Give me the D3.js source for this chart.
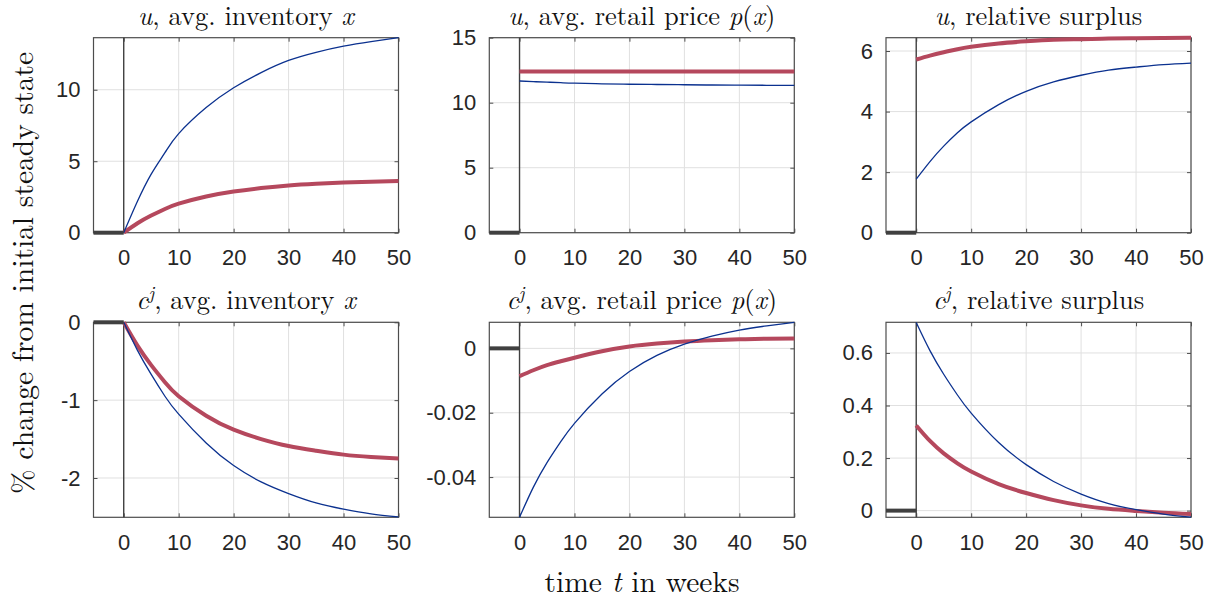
<!DOCTYPE html>
<html><head><meta charset="utf-8">
<script src="https://cdn.jsdelivr.net/npm/d3@7"></script>
<style>body{margin:0;background:#fff}svg{display:block}</style>
</head><body>
<script>
// ---- data ----
const times = [0, 2.5, 5, 7.5, 10, 15, 20, 25, 30, 35, 40, 45, 50];
const preTimes = [-5.5, 0];
const xTicks = [0, 10, 20, 30, 40, 50];

const uInventoryBlue = [0, 2.2, 4.1, 5.6, 6.93, 8.75, 10.14, 11.2, 12.05, 12.62, 13.05, 13.37, 13.64];
const uInventoryRed  = [0, 0.66, 1.2, 1.66, 2.03, 2.53, 2.88, 3.12, 3.3, 3.42, 3.51, 3.57, 3.62];
const uPriceBlue     = [11.67, 11.62, 11.58, 11.54, 11.5, 11.45, 11.42, 11.4, 11.38, 11.36, 11.35, 11.34, 11.33];
const uPriceRed      = [12.4, 12.4, 12.4, 12.4, 12.4, 12.4, 12.4, 12.4, 12.4, 12.4, 12.4, 12.4, 12.4];
const uSurplusBlue   = [1.77, 2.35, 2.86, 3.3, 3.66, 4.23, 4.67, 4.98, 5.2, 5.37, 5.47, 5.55, 5.6];
const uSurplusRed    = [5.72, 5.85, 5.96, 6.06, 6.14, 6.25, 6.32, 6.37, 6.39, 6.41, 6.42, 6.43, 6.44];
const cInventoryBlue = [0, -0.36, -0.67, -0.95, -1.18, -1.55, -1.84, -2.05, -2.2, -2.32, -2.4, -2.46, -2.5];
const cInventoryRed  = [0, -0.3, -0.55, -0.77, -0.95, -1.2, -1.38, -1.5, -1.59, -1.65, -1.7, -1.73, -1.75];
const cPriceBlue     = [-0.0525, -0.0432, -0.0355, -0.029, -0.0233, -0.0142, -0.0072, -0.0022, 0.0013, 0.0038, 0.0057, 0.007, 0.0081];
const cPriceRed      = [-0.0086, -0.0068, -0.0052, -0.004, -0.0029, -0.0009, 0.0006, 0.0015, 0.0021, 0.0025, 0.0028, 0.003, 0.0031];
const cSurplusBlue   = [0.716, 0.609, 0.519, 0.44, 0.371, 0.259, 0.175, 0.111, 0.063, 0.027, 0.004, -0.013, -0.025];
const cSurplusRed    = [0.324, 0.265, 0.218, 0.18, 0.149, 0.101, 0.067, 0.04, 0.02, 0.007, -0.001, -0.008, -0.013];

const yTicksList = [[0, 5, 10], [0, 5, 10, 15], [0, 2, 4, 6], [-2, -1, 0], [-0.04, -0.02, 0], [0, 0.2, 0.4, 0.6]];
const yTickLabels = [["0","5","10"], ["0","5","10","15"], ["0","2","4","6"], ["-2","-1","0"], ["-0.04","-0.02","0"], ["0","0.2","0.4","0.6"]];
const yDomains = [[0, 13.64], [0, 15], [0, 6.44], [-2.505, 0], [-0.0525, 0.0081], [-0.0254, 0.7166]];
const titleSymbol = ["u", "u", "u", "c", "c", "c"];
const titleText = [", avg. inventory ", ", avg. retail price ", ", relative surplus", ", avg. inventory ", ", avg. retail price ", ", relative surplus"];
const titleTail = ["x", "p(x)", "", "x", "p(x)", ""];
const blueSeries = [uInventoryBlue, uPriceBlue, uSurplusBlue, cInventoryBlue, cPriceBlue, cSurplusBlue];
const redSeries = [uInventoryRed, uPriceRed, uSurplusRed, cInventoryRed, cPriceRed, cSurplusRed];

// ---- layout ----
const W = 1208, H = 601;
const colL = [93.5, 489.3, 886], pw = 305;
const rowT = [37.7, 322.3], ph = 195;
const RED = "#b5485d", BLUE = "#0b318f", DARK = "#404040", AX = "#4d4d4d", GRID = "#e0e0e0", TXT = "#262626";
const SANS = "'Liberation Sans', Arial, Helvetica, sans-serif";
const SERIF = "'Latin Modern Roman', 'Liberation Serif', serif";

const svg = d3.select("body").append("svg").attr("width", W).attr("height", H);

for (let i = 0; i < 6; i++) {
  const r = Math.floor(i / 3), c = i % 3;
  const x0 = colL[c], y0 = rowT[r];
  const g = svg.append("g").attr("transform", `translate(${x0},${y0})`);
  const x = d3.scaleLinear().domain([-5.5, 50]).range([0, pw]);
  const y = d3.scaleLinear().domain(yDomains[i]).range([ph, 0]);

  // grid
  g.append("g").selectAll("line").data(xTicks.filter(t => t > 0)).join("line")
    .attr("x1", d => x(d)).attr("x2", d => x(d)).attr("y1", 0).attr("y2", ph)
    .attr("stroke", GRID).attr("stroke-width", 1);
  g.append("g").selectAll("line").data(yTicksList[i]).join("line")
    .attr("x1", 0).attr("x2", pw).attr("y1", d => y(d)).attr("y2", d => y(d))
    .attr("stroke", GRID).attr("stroke-width", 1);

  // box
  g.append("rect").attr("width", pw).attr("height", ph).attr("fill", "none")
    .attr("stroke", AX).attr("stroke-width", 1.2);

  // axes (ticks inward)
  const xAxis = d3.axisBottom(x).tickValues(xTicks).tickSize(-4).tickPadding(17).tickFormat(d3.format("d"));
  const yAxis = d3.axisLeft(y).tickValues(yTicksList[i]).tickSize(-4).tickPadding(13)
    .tickFormat((d, k) => yTickLabels[i][k]);
  const xa = g.append("g").attr("transform", `translate(0,${ph})`).call(xAxis);
  const ya = g.append("g").call(yAxis);
  const xTop = g.append("g").call(d3.axisTop(x).tickValues(xTicks).tickSize(-4).tickFormat(""));
  const yRight = g.append("g").attr("transform", `translate(${pw},0)`).call(d3.axisRight(y).tickValues(yTicksList[i]).tickSize(-4).tickFormat(""));
  [xa, ya, xTop, yRight].forEach(a => {
    a.select(".domain").remove();
    a.selectAll(".tick line").attr("stroke", AX);
    a.selectAll("text").style("font-family", SANS).attr("font-size", 22).attr("fill", TXT);
  });
  xa.selectAll("text").attr("dy", "0.71em");

  // vertical line at t=0
  g.append("line").attr("x1", x(0)).attr("x2", x(0)).attr("y1", 0).attr("y2", ph)
    .attr("stroke", DARK).attr("stroke-width", 1.4);

  // lines
  const lineGen = d3.line().x(d => x(d[0])).y(d => y(d[1])).curve(d3.curveNatural);
  const lg = g.append("g");
  lg.append("path").datum(times.map((t, k) => [t, redSeries[i][k]]))
    .attr("d", lineGen).attr("fill", "none").attr("stroke", RED).attr("stroke-width", 4);
  lg.append("path").datum(times.map((t, k) => [t, blueSeries[i][k]]))
    .attr("d", lineGen).attr("fill", "none").attr("stroke", BLUE).attr("stroke-width", 1.3);
  lg.append("path").datum(preTimes.map(t => [t, 0]))
    .attr("d", d3.line().x(d => x(d[0])).y(d => y(d[1]))).attr("fill", "none").attr("stroke", DARK).attr("stroke-width", 4);

  // title
  const tt = g.append("text").attr("x", pw / 2).attr("y", -13).attr("text-anchor", "middle")
    .style("font-family", SERIF).attr("font-size", 26.5).attr("fill", "#111");
  tt.append("tspan").attr("font-style", "italic").text(titleSymbol[i]);
  if (r === 1) tt.append("tspan").attr("font-style", "italic").attr("font-size", 18.5).attr("dy", -10).text("j");
  tt.append("tspan").attr("dy", r === 1 ? 10 : 0).text(titleText[i]);
  if (titleTail[i] === "x") tt.append("tspan").attr("font-style", "italic").text("x");
  if (titleTail[i] === "p(x)") {
    tt.append("tspan").attr("font-style", "italic").text("p");
    tt.append("tspan").text("(");
    tt.append("tspan").attr("font-style", "italic").text("x");
    tt.append("tspan").text(")");
  }
}

// axis labels
svg.append("text").attr("transform", "translate(33,273) rotate(-90)").attr("text-anchor", "middle")
  .style("font-family", SERIF).attr("font-size", 29.5).attr("fill", "#111")
  .text("% change from initial steady state");
const xl = svg.append("text").attr("x", 642).attr("y", 592).attr("text-anchor", "middle")
  .style("font-family", SERIF).attr("font-size", 29.5).attr("fill", "#111");
xl.append("tspan").text("time ");
xl.append("tspan").attr("font-style", "italic").text("t");
xl.append("tspan").text(" in weeks");
</script>
</body></html>
